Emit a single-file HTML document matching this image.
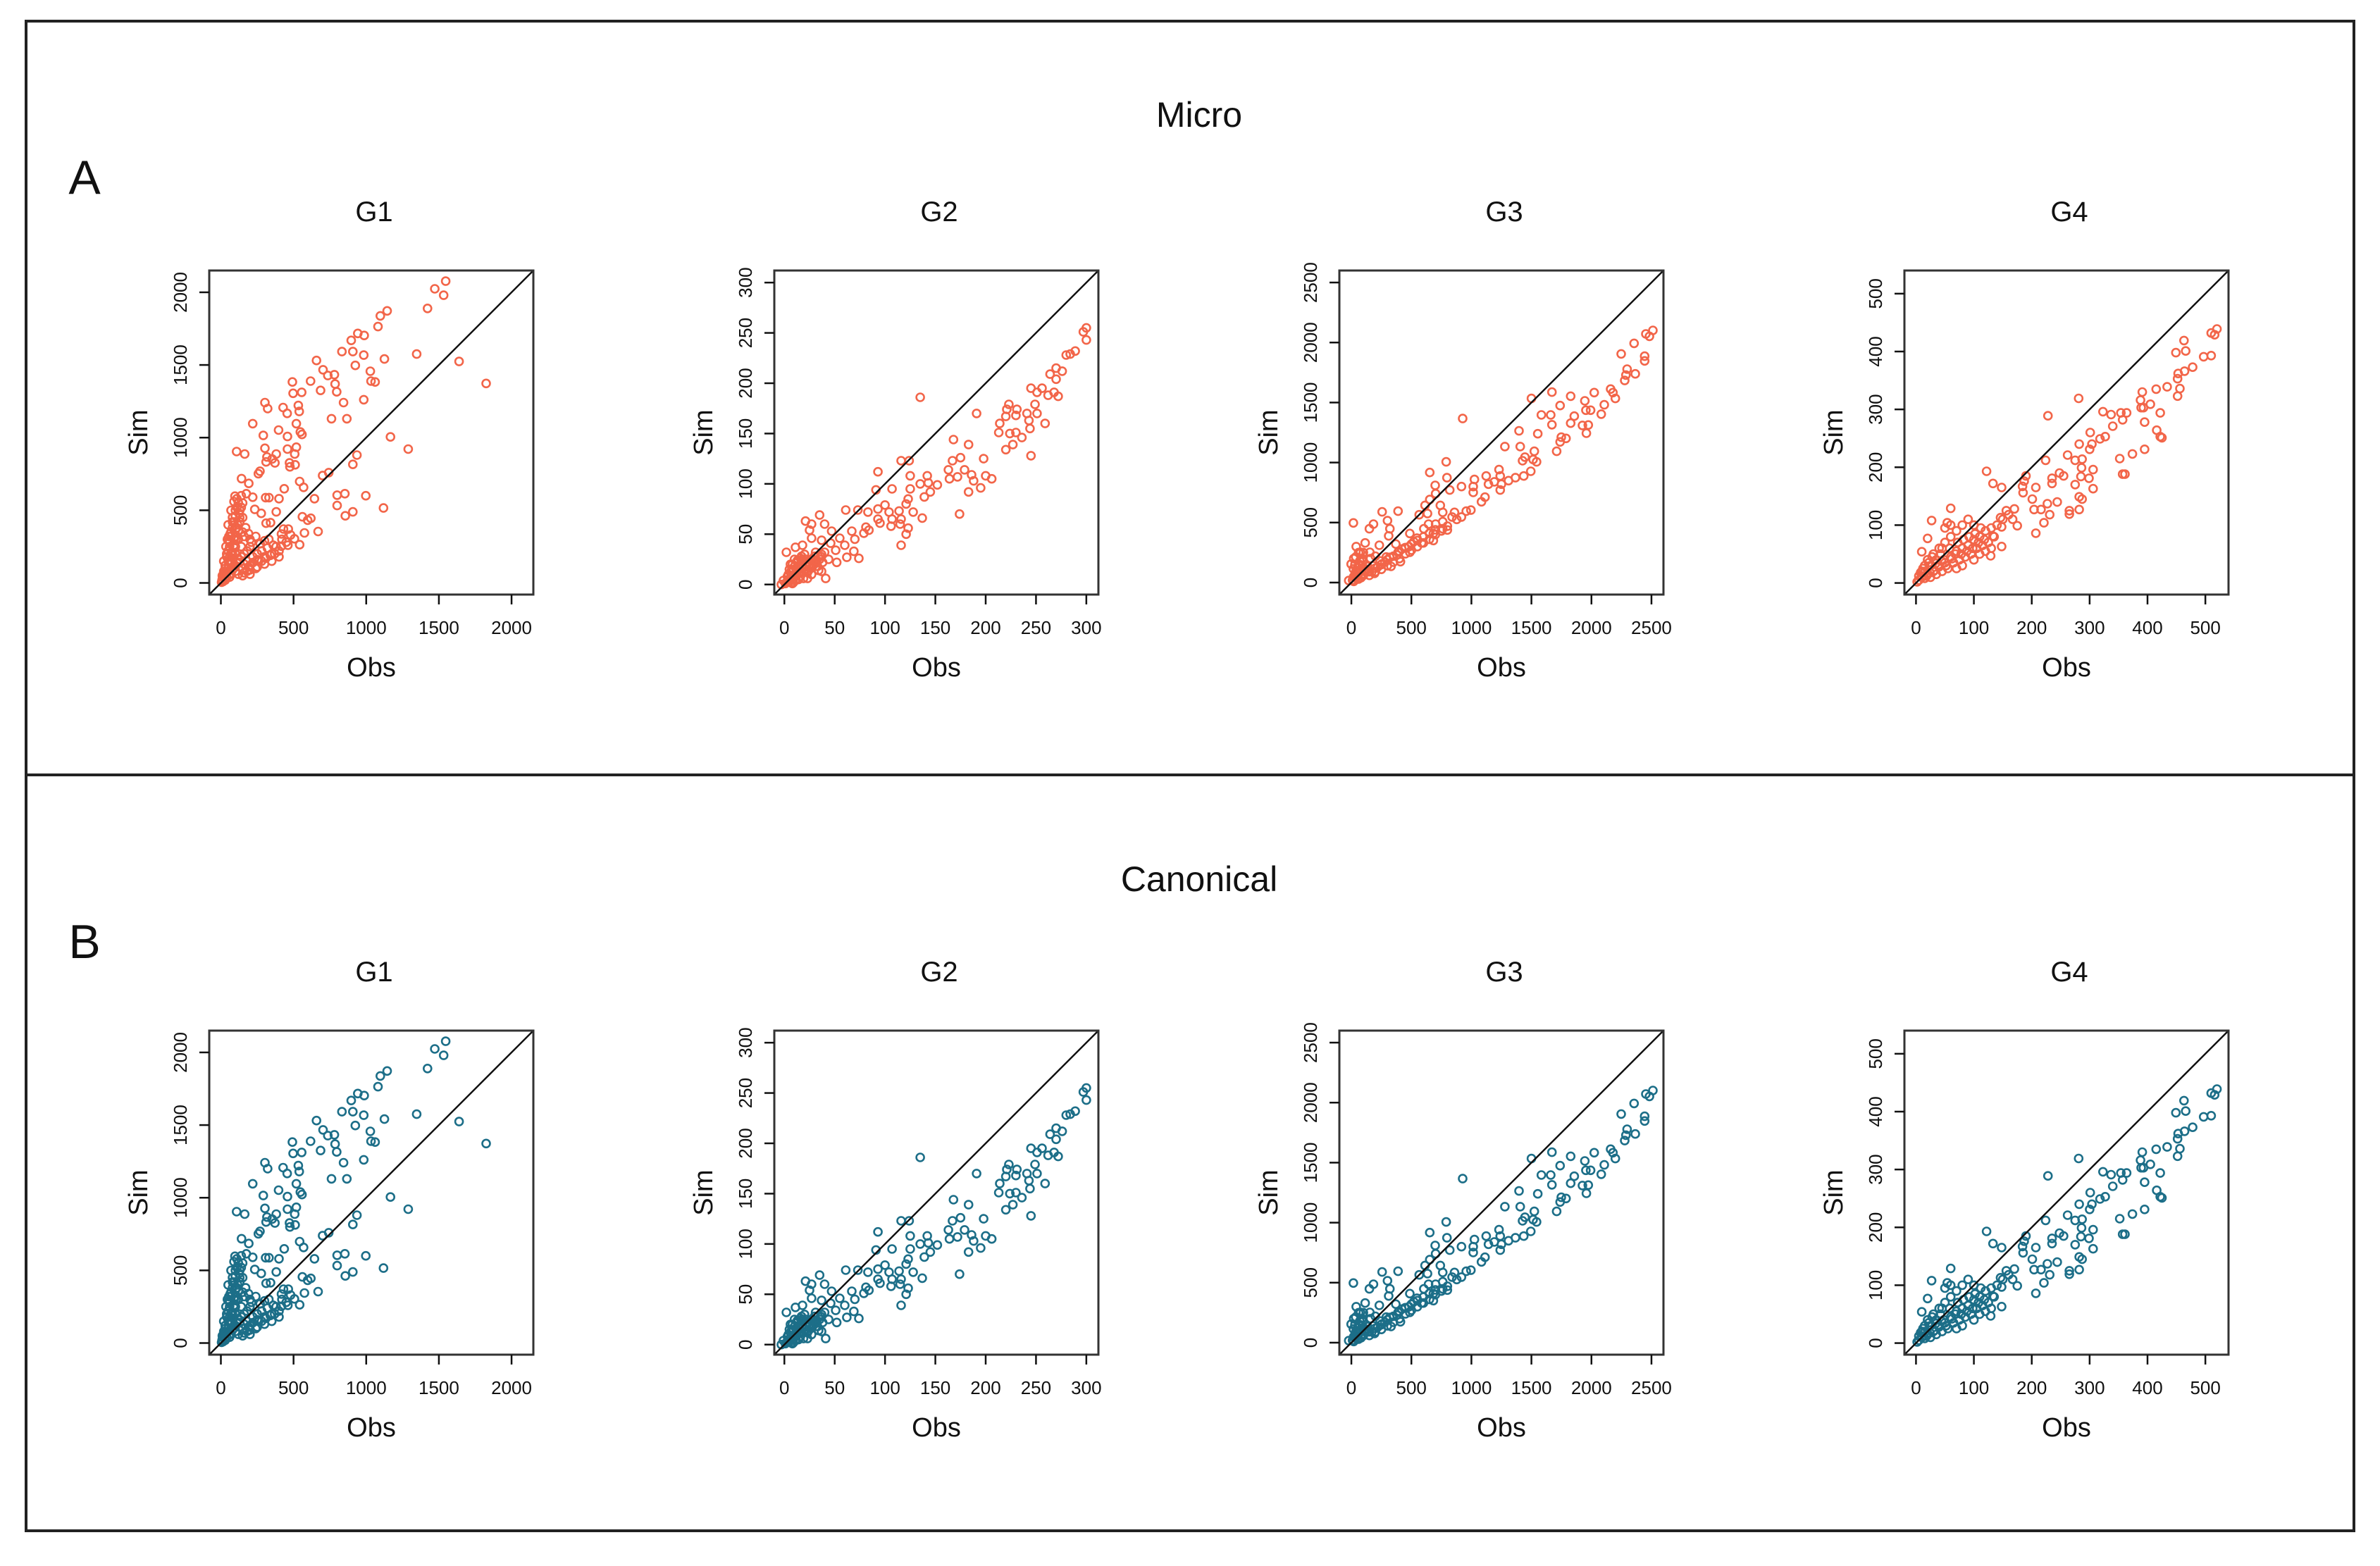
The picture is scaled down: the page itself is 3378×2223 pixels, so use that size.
<!DOCTYPE html>
<html><head><meta charset="utf-8"><style>
html,body{margin:0;padding:0;background:#fff;}
svg{display:block;}
text{font-family:"Liberation Sans",sans-serif;fill:#111;}
</style></head><body>
<svg id="fig" width="3378" height="2223" viewBox="0 0 3378 2223" xmlns="http://www.w3.org/2000/svg">
<rect x="37" y="30" width="3304" height="2143" fill="none" stroke="#222" stroke-width="4"/>
<line x1="37" y1="1100" x2="3341" y2="1100" stroke="#222" stroke-width="4"/>
<text x="1702" y="180" font-size="50" text-anchor="middle">Micro</text>
<text x="1702" y="1265" font-size="50" text-anchor="middle">Canonical</text>
<text x="120" y="275" font-size="68" text-anchor="middle">A</text>
<text x="120" y="1360" font-size="68" text-anchor="middle">B</text>
<g id="plots"></g>
</svg>
<script>
const groupNames = ["G1","G2","G3","G4"];
const axisLimits = [[-80,2150],[-10,312],[-100,2600],[-20,540]];
const tickValues = [[0,500,1000,1500,2000],[0,50,100,150,200,250,300],[0,500,1000,1500,2000,2500],[0,100,200,300,400,500]];
const g1Obs = [1547,1472,1533,1422,1097,1144,1081,942,986,897,833,908,983,925,1347,1125,1639,1028,1033,1061,1825,658,703,736,781,786,797,617,686,556,492,497,533,539,428,456,303,322,844,983,761,867,219,397,519,547,558,292,458,1167,1289,108,164,303,381,519,458,317,353,372,311,508,472,475,511,936,908,269,258,142,192,542,569,436,742,700,175,97,219,308,331,400,644,800,853,997,1119,800,908,856,561,597,619,381,233,278,311,342,464,431,669,575,506,542,417,461,417,
50,80,100,120,70,90,110,130,60,40,20,30,10,80,100,120,150,140,160,200,180,220,250,280,300,320,350,380,400,260,200,150,100,60,30,120,90,70,140,180,200,160,150,130,110,90,140,170,190,210,240,270,300,330,360,420,450,480,400,350,300,250,200,160,20,40,50,60,70,80,100,110,45,35,55,25,15,5,8,12,
20,30,40,50,60,70,80,90,100,110,60,70,90,100,120,130,140,150,40,60,80,100,130,160,190,220,250,280,310,340,370,200,150,120,240,180,30,50,70,85,95,105,115,125,65,55];
const g1Sim = [2077,2024,1980,1889,1838,1872,1764,1717,1703,1669,1592,1592,1568,1497,1575,1541,1524,1457,1389,1383,1373,1531,1467,1427,1433,1369,1315,1389,1325,1312,1383,1305,1221,1180,1207,1167,1241,1200,1241,1261,1130,1130,1096,1052,1096,1039,1022,1015,1008,1005,921,904,887,927,887,934,921,867,853,826,833,887,826,799,813,880,816,769,752,718,685,698,658,648,759,739,614,597,590,587,587,580,580,604,614,600,516,533,489,462,455,432,445,489,506,479,411,415,371,371,354,344,304,263,337,260,253,
400,450,500,550,350,300,380,420,250,200,150,100,50,200,250,300,350,250,200,250,150,180,200,220,180,240,200,250,220,150,120,100,80,40,20,160,120,60,180,220,300,320,450,500,580,560,600,380,340,280,320,270,290,300,260,300,280,330,180,150,130,110,90,70,60,80,150,180,500,420,200,140,300,250,320,30,10,5,20,40,
80,120,180,220,280,320,380,420,460,520,140,200,260,320,360,450,520,550,40,60,90,120,140,130,110,140,160,150,170,190,200,60,50,60,100,80,60,100,130,170,240,300,400,480,340,290];
const g2Obs = [300,297,300,284,280,289,270,276,264,270,245,256,251,262,268,272,249,223,221,231,220,230,241,251,243,244,259,214,213,224,230,236,227,220,245,135,191,168,183,116,124,93,167,175,198,163,179,186,188,195,200,206,164,172,183,125,142,135,143,152,107,125,91,145,139,123,121,61,73,83,35,93,100,104,114,128,137,174,93,107,116,95,106,115,123,81,84,79,121,116,21,27,25,40,47,67,70,69,74,52,41,2,11,18,55,60,51,37,44,32,25,18,13,37,6,4,-1,9,23,-3,31,62,46,37,27,
5,8,10,12,15,3,6,9,14,18,20,22,25,28,30,2,4,7,11,16,19,24,27,33,35,13,17,8,5,10,
1,3,6,9,12,15,18,21,24,27,30,4,7,10,13,16,20,23,26,29,32,36,40,38,34,19,14,8];
const g2Sim = [255,251,243,229,228,232,215,212,209,204,195,195,191,188,191,187,179,179,174,174,167,168,170,170,163,155,160,160,151,150,151,146,139,134,128,186,170,144,139,123,123,112,123,126,125,114,114,109,103,96,108,105,105,107,92,108,108,100,101,99,95,95,94,92,87,85,80,74,74,72,69,75,79,72,73,72,66,70,65,65,65,61,58,60,56,57,54,51,50,39,63,60,54,60,53,53,45,33,26,22,6,32,37,39,46,39,34,30,25,23,18,25,13,13,20,9,4,2,6,0,32,27,41,44,46,
3,5,8,10,12,8,12,15,18,20,15,25,20,18,22,2,5,2,4,8,12,14,10,18,25,22,28,20,15,25,
1,3,6,9,14,16,16,19,22,25,28,10,14,18,24,26,30,12,16,20,24,28,32,22,14,6,5,1];
const g3Obs = [2512,2453,2483,2355,2248,2443,2443,2297,2365,2287,2277,2160,2179,2199,2023,1671,1827,1500,1945,2107,1739,1954,1993,2082,1583,1661,1857,1827,1671,1925,1974,1958,927,1397,1553,1749,1788,1739,1279,1407,1710,1524,1446,1426,1514,1543,790,653,796,1230,1240,1495,1436,1367,1309,1123,1191,1250,1142,1025,1015,917,1015,1240,820,698,702,1113,1084,653,614,741,256,389,301,17,184,150,321,565,634,761,859,957,996,839,878,917,761,702,643,604,761,683,800,487,546,585,448,389,291,233,115,76,37,311,683,370,487,252,135,17,193,57,-22,96,154,-2,409,330,
100,150,200,250,300,350,400,450,500,550,600,650,700,120,180,220,280,320,380,420,480,520,50,30,20,60,80,40,70,90,60,40,20,30,
10,30,50,70,100,40,80,120,160,200,240,150,200,250,300,350,400,450,500,550,600,650,700,750,800,20,60,90,130,170];
const g3Sim = [2101,2072,2052,1993,1905,1886,1847,1778,1739,1729,1684,1612,1583,1534,1583,1587,1553,1534,1514,1481,1475,1436,1436,1403,1397,1397,1387,1328,1315,1309,1313,1244,1367,1264,1240,1211,1201,1172,1133,1133,1094,1094,1045,1015,1025,1006,1006,917,874,941,888,927,888,874,849,888,839,820,820,859,800,800,751,771,771,810,741,712,673,692,643,643,589,595,516,497,487,448,448,565,575,585,585,595,604,546,526,546,507,487,487,448,448,409,438,409,370,330,291,252,213,311,330,252,213,389,350,321,252,154,135,115,76,57,17,174,252,154,174,135,
60,90,120,150,190,220,260,290,320,350,380,410,440,100,140,130,170,210,230,280,300,340,30,40,10,80,40,100,150,200,250,300,200,150,
20,60,120,180,250,80,100,150,200,220,180,60,90,110,140,170,200,240,270,300,330,360,400,430,470,50,30,70,110,90];
const g4Obs = [520,510,516,463,466,449,510,497,478,464,453,452,456,452,434,415,391,388,405,393,422,389,395,416,422,425,395,374,352,357,361,281,228,323,337,354,364,340,357,327,318,301,304,282,300,275,287,224,262,190,187,248,255,235,235,286,306,285,299,306,275,282,287,282,265,265,244,227,231,221,207,201,184,207,185,204,216,122,133,148,146,148,156,160,167,175,170,148,133,129,60,27,54,20,10,
10,20,30,40,50,60,70,80,90,100,110,120,130,140,150,100,90,80,70,60,50,40,30,20,15,5,25,35,45,55,65,75,85,95,105,115,125,135,60,50,45,35,25,10,100,110,120,130,80,70,
2,5,8,12,15,18,22,28,32,38,42,48,52,58,62,68,72,78,82,88,92,98,102,108,112,118,24,16,34,44];
const g4Sim = [439,432,429,419,401,398,393,391,373,366,362,353,336,323,339,335,330,316,309,303,294,303,278,264,253,251,231,223,215,188,188,319,289,296,291,294,294,271,282,253,249,260,240,240,231,212,214,212,221,185,176,190,185,172,181,199,196,184,181,163,170,149,145,127,125,119,140,137,118,104,86,145,167,165,156,127,127,193,172,165,113,97,125,118,110,99,128,63,81,47,129,108,104,77,54,
10,15,20,28,35,45,55,60,65,75,80,90,95,100,110,100,110,100,90,80,70,60,50,40,30,5,10,15,20,25,35,40,45,50,60,65,70,80,100,95,60,40,30,20,40,50,55,60,30,25,
2,12,18,25,8,12,35,45,22,30,50,40,30,60,42,50,70,50,75,55,80,60,85,70,95,75,18,20,34,38];

const obsSeries = [g1Obs,g2Obs,g3Obs,g4Obs];
const simSeries = [g1Sim,g2Sim,g3Sim,g4Sim];
const rowTitles = ["micro","canonical"];
const rowColors = ["#f26549","#1c6e88"];
const rowTops = [384,1463];
const colLefts = [297,1099,1901,2703];
const BOX = 460;
const NS = "http://www.w3.org/2000/svg";
const root = document.getElementById('plots');
function mk(tag, attrs, parent){const e=document.createElementNS(NS,tag);for(const k in attrs)e.setAttribute(k,attrs[k]);parent.appendChild(e);return e;}
for(let r=0;r<2;r++){
 for(let c=0;c<4;c++){
  const left=colLefts[c], top=rowTops[r];
  const lo=axisLimits[c][0], hi=axisLimits[c][1];
  const sx=v=>left+(v-lo)/(hi-lo)*BOX;
  const sy=v=>top+BOX-(v-lo)/(hi-lo)*BOX;
  const g=mk('g',{},root);
  
  
  const t=mk('text',{x:left+BOX/2+4,y:top-70,'font-size':40,'text-anchor':'middle'},g);
  t.textContent=groupNames[c];
  
  
  const pts=mk('g',{},g);
  
  
  const ox=obsSeries[c], oy=simSeries[c];
  for(let i=0;i<ox.length;i++){
   const p=mk('circle',{cx:sx(ox[i]).toFixed(1),cy:sy(oy[i]).toFixed(1),r:5.5,fill:'none',stroke:rowColors[r],'stroke-width':2.6},pts);
   
   
  }
  const d=mk('line',{x1:sx(lo),y1:sy(lo),x2:sx(hi),y2:sy(hi),stroke:'#111','stroke-width':2.5},g);
  
  
  const b=mk('rect',{x:left,y:top,width:BOX,height:BOX,fill:'none',stroke:'#333','stroke-width':3},g);
  
  
  for(const v of tickValues[c]){
   const tx=mk('line',{x1:sx(v),y1:top+BOX,x2:sx(v),y2:top+BOX+14,stroke:'#111','stroke-width':2.5},g);
   
   
   const lx=mk('text',{x:sx(v),y:top+BOX+56,'font-size':26,'text-anchor':'middle'},g);
   lx.textContent=v;
   
   
   const ty=mk('line',{x1:left,y1:sy(v),x2:left-14,y2:sy(v),stroke:'#111','stroke-width':2.5},g);
   
   
   const yy=sy(v);
   const ly=mk('text',{x:left-32,y:yy,'font-size':26,'text-anchor':'middle',transform:'rotate(-90 '+(left-32)+' '+yy+')'},g);
   ly.textContent=v;
   
   
  }
  const xl=mk('text',{x:left+BOX/2,y:top+BOX+116,'font-size':38,'text-anchor':'middle'},g);
  xl.textContent='Obs';
  
  
  const yx=left-88, yyc=top+BOX/2;
  const yl=mk('text',{x:yx,y:yyc,'font-size':38,'text-anchor':'middle',transform:'rotate(-90 '+yx+' '+yyc+')'},g);
  yl.textContent='Sim';
  
  
 }
}
</script>
</body></html>
